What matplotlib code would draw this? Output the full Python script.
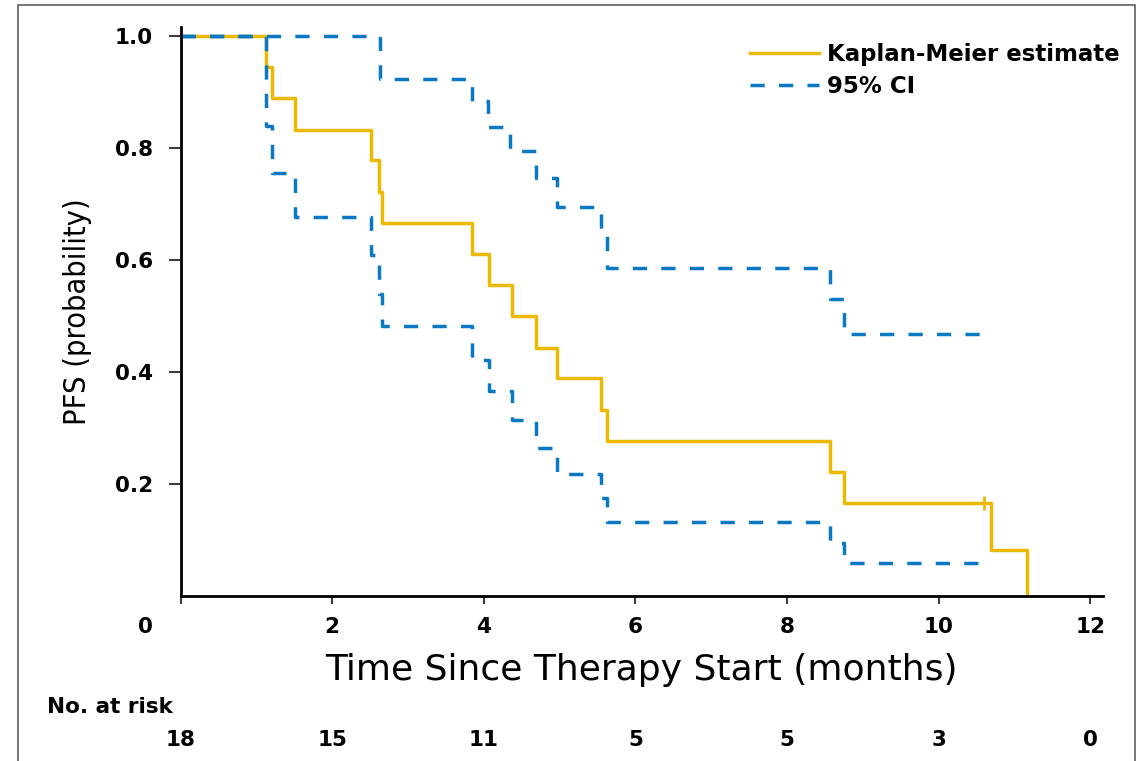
"""km_pfs.py - Courbe de Kaplan-Meier (PFS) avec IC 95%"""

import matplotlib
matplotlib.use("Agg")
import matplotlib.pyplot as plt
from matplotlib.patches import Rectangle
from matplotlib import transforms

# Données
km_times = [0, 1.13, 1.20, 1.51, 2.51, 2.62, 2.65, 3.84, 4.07, 4.37, 4.69,
            4.96, 5.55, 5.63, 8.57, 8.75, 10.69, 11.16]
km_surv = [1.0, 0.944, 0.889, 0.833, 0.778, 0.722, 0.667, 0.611, 0.556, 0.500,
           0.444, 0.389, 0.333, 0.278, 0.222, 0.167, 0.083, 0.0]
censor_times = [10.60]
censor_surv = [0.167]

upper_times = [0, 2.55, 2.63, 3.84, 4.06, 4.35, 4.69, 4.96, 5.55, 5.63, 8.57,
               8.75, 10.60]
upper_vals = [1.0, 0.996, 0.923, 0.883, 0.838, 0.795, 0.746, 0.694, 0.645,
              0.586, 0.530, 0.468, 0.468]

lower_times = [0, 1.13, 1.20, 1.51, 2.51, 2.62, 2.65, 3.84, 4.07, 4.37, 4.69,
               4.96, 5.55, 5.63, 8.57, 8.75, 10.70]
lower_vals = [1.0, 0.84, 0.755, 0.677, 0.609, 0.54, 0.483, 0.421, 0.366, 0.314,
              0.265, 0.218, 0.175, 0.132, 0.095, 0.060, 0.060]

x_ticks = [0, 2, 4, 6, 8, 10, 12]
y_ticks = [0.2, 0.4, 0.6, 0.8, 1.0]
at_risk = [18, 15, 11, 5, 5, 3, 0]

YELLOW = '#EDB900'
BLUE = '#0A78C4'
DASH = (0, (4.1, 4.1))

fig = plt.figure(figsize=(11.47, 7.61), dpi=100)
ax = fig.add_axes([0.1575, 0.2162, 0.8042, 0.7484])

"""Courbes"""
ax.step(km_times, km_surv, where='post', color=YELLOW, lw=2.5,
        label='Kaplan-Meier estimate')
ax.plot(censor_times, censor_surv, ls='none', marker='|', ms=10, mew=2,
        color=YELLOW)
ax.step(upper_times, upper_vals, where='post', color=BLUE, lw=2.5, ls=DASH,
        label='95% CI')
ax.step(lower_times, lower_vals, where='post', color=BLUE, lw=2.5, ls=DASH)

"""Axes"""
ax.set_xlim(0, 12.17)
ax.set_ylim(0, 1.016)
for side in ['top', 'right']:
    ax.spines[side].set_visible(False)
for side in ['left', 'bottom']:
    ax.spines[side].set_linewidth(2)
    ax.spines[side].set_color('black')

tick_font = dict(family='DejaVu Sans', weight='bold', size=15.5)
ax.set_xticks(x_ticks)
ax.set_xticklabels([''] + [str(t) for t in x_ticks[1:]], **tick_font)
ax.set_yticks(y_ticks)
ax.set_yticklabels([f'{v:.1f}' for v in y_ticks], **tick_font)
ax.tick_params(axis='y', direction='out', length=8.5, width=1.1, pad=11.5)
ax.tick_params(axis='x', direction='out', length=6, width=1.1, pad=8.5)

"""Le 0 de l'axe x est décalé à gauche"""
ax.annotate('0', xy=(0, 0), xycoords=('data', 'axes fraction'),
            xytext=(-25.5, -14.5), textcoords='offset points',
            ha='center', va='top', **tick_font)

ax.set_xlabel('Time Since Therapy Start (months)', family='DejaVu Sans',
              fontsize=26)
ax.xaxis.set_label_coords(0.5, -0.1)
ax.set_ylabel('PFS (probability)', family='DejaVu Sans', fontstretch='condensed',
              fontsize=22)
ax.yaxis.set_label_coords(-0.096, 0.5)

"""Légende"""
ax.legend(loc='upper left', bbox_to_anchor=(750 / 1147, 0.944),
          bbox_transform=fig.transFigure, frameon=False, borderpad=0,
          borderaxespad=0, handlelength=3.0, handletextpad=0.35,
          labelspacing=0.4, prop=dict(family='DejaVu Sans', weight='bold', size=16.5))

"""Nombre de sujets à risque"""
risk_trans = transforms.blended_transform_factory(ax.transData, fig.transFigure)
fig.text(0.041, 0.071, 'No. at risk', ha='left', va='center', **tick_font)
for t, n in zip(x_ticks, at_risk):
    ax.text(t, 0.0276, str(n), transform=risk_trans, ha='center', va='center',
            **tick_font)

"""Cadre gris autour de la figure"""
fig.add_artist(Rectangle((0.0157, -0.05), 0.9738, 1.0434, transform=fig.transFigure,
                         fill=False, ec='#606060', lw=1.2))

fig.savefig('out.png', dpi=100, facecolor='white')
